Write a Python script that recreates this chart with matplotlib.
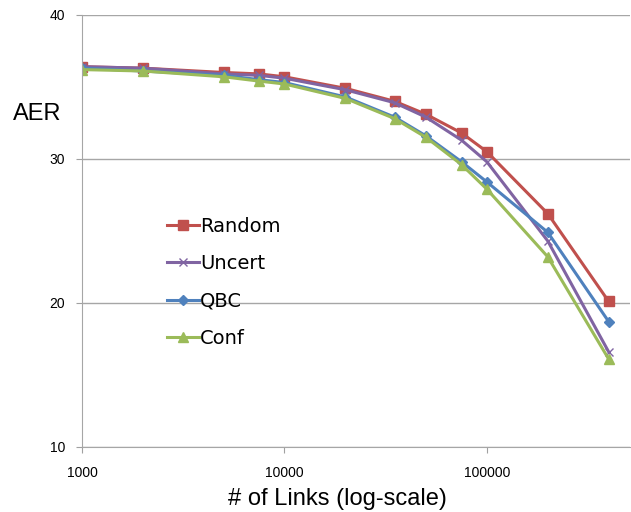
import numpy as np
import matplotlib.pyplot as plt

# data
links = [1000, 2000, 5000, 7500, 10000, 20000, 35000, 50000, 75000, 100000, 200000, 400000]
random_aer = [36.4, 36.3, 36.0, 35.9, 35.7, 34.9, 34.0, 33.1, 31.8, 30.5, 26.2, 20.1]
uncert_aer = [36.4, 36.3, 35.9, 35.8, 35.6, 34.8, 33.9, 32.9, 31.3, 29.8, 24.3, 16.6]
qbc_aer = [36.3, 36.1, 35.8, 35.5, 35.3, 34.3, 32.9, 31.6, 29.8, 28.4, 24.9, 18.7]
conf_aer = [36.2, 36.1, 35.7, 35.4, 35.2, 34.2, 32.8, 31.5, 29.6, 27.9, 23.2, 16.1]
series_names = ["Random", "Uncert", "QBC", "Conf"]

plt.rcParams['font.family'] = ['Liberation Sans', 'DejaVu Sans']

fig = plt.figure(figsize=(6.31, 5.12), dpi=100)
ax = fig.add_axes([0.13, 0.127, 0.868, 0.844])

ax.plot(links, random_aer, color='#C0504D', marker='s', markersize=7, lw=2.2, label=series_names[0])
ax.plot(links, uncert_aer, color='#8064A2', marker='x', markersize=6, mew=1, lw=2.2, label=series_names[1])
ax.plot(links, qbc_aer, color='#4F81BD', marker='D', markersize=5, lw=2.2, label=series_names[2])
ax.plot(links, conf_aer, color='#9BBB59', marker='^', markersize=7, lw=2.2, label=series_names[3])

ax.set_xscale('log')
ax.set_xlim(1000, 10 ** 5.706)
ax.set_ylim(10, 40)
ax.set_yticks([10, 20, 30, 40])
ax.set_xticks([1000, 10000, 100000])
ax.set_xticklabels(["1000", "10000", "100000"])
ax.xaxis.set_minor_locator(plt.NullLocator())
ax.tick_params(labelsize=10, colors='#A0A0A0', labelcolor='black', length=4)
ax.tick_params(axis='x', pad=10)
ax.tick_params(axis='y', pad=8)

ax.grid(axis='y', color='#A6A6A6', lw=1)
ax.set_axisbelow(True)
for s in ['top', 'right']:
    ax.spines[s].set_visible(False)
for s in ['left', 'bottom']:
    ax.spines[s].set_color('#A6A6A6')

# axis titles placed as in the reference
fig.text(337 / 631, 1 - 505 / 512, "# of Links (log-scale)", fontsize=17, ha='center', va='baseline')
fig.text(13 / 631, 1 - 120 / 512, "AER", fontsize=17, ha='left', va='baseline')

ax.legend(loc='upper left', bbox_to_anchor=(157 / 631, 1 - 207 / 512), bbox_transform=fig.transFigure,
          frameon=False, prop={'family': 'DejaVu Sans', 'size': 14}, handlelength=1.65,
          handletextpad=0.05, labelspacing=0.95, borderpad=0)

plt.savefig("out.png", dpi=100)
